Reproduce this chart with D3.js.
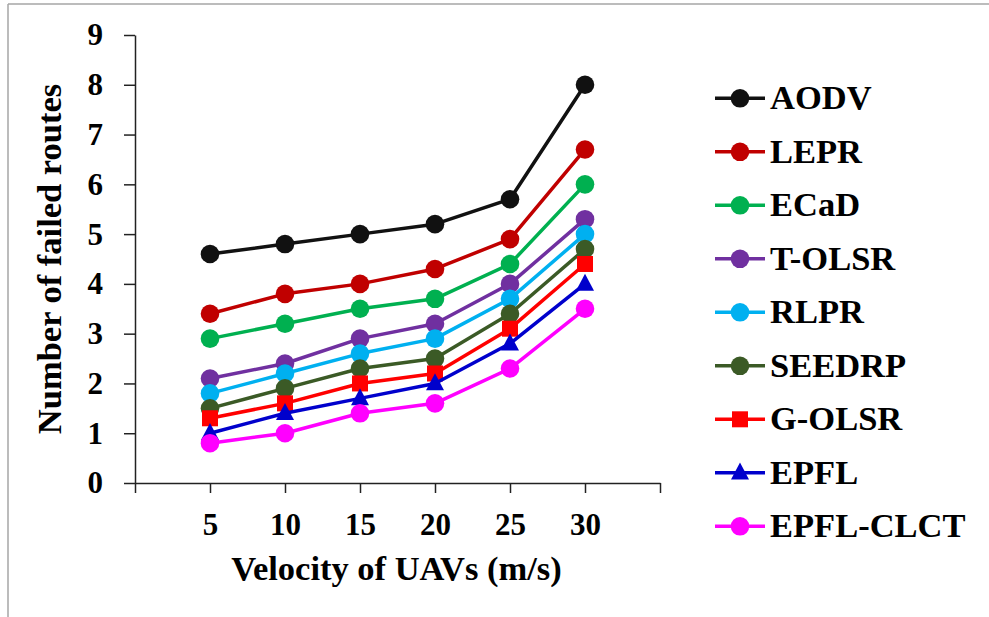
<!DOCTYPE html>
<html>
<head>
<meta charset="utf-8">
<script src="https://cdn.jsdelivr.net/npm/d3@7/dist/d3.min.js"></script>
<style>
  html, body { margin: 0; padding: 0; background: #fff; }
  svg { display: block; }
</style>
</head>
<body>
<svg id="chart" width="989" height="617"></svg>
<script>
// ---- Data ----
const velocities = [5, 10, 15, 20, 25, 30];
const xTickValues = [0, 5, 10, 15, 20, 25, 30, 35];
const xTickLabels = ["", "5", "10", "15", "20", "25", "30", ""];
const yTickValues = [0, 1, 2, 3, 4, 5, 6, 7, 8, 9];
const seriesNames = ["AODV", "LEPR", "ECaD", "T-OLSR", "RLPR", "SEEDRP", "G-OLSR", "EPFL", "EPFL-CLCT"];
const seriesColors = ["#111111", "#C00000", "#00B050", "#7030A0", "#00B0F0", "#3B5A26", "#FF0000", "#0000CC", "#FF00FF"];
const seriesMarkers = ["circle", "circle", "circle", "circle", "circle", "circle", "square", "triangle", "circle"];
const aodv     = [4.6, 4.8, 5.0, 5.2, 5.7, 8.0];
const lepr     = [3.4, 3.8, 4.0, 4.3, 4.9, 6.7];
const ecad     = [2.9, 3.2, 3.5, 3.7, 4.4, 6.0];
const tolsr    = [2.1, 2.4, 2.9, 3.2, 4.0, 5.3];
const rlpr     = [1.8, 2.2, 2.6, 2.9, 3.7, 5.0];
const seedrp   = [1.5, 1.9, 2.3, 2.5, 3.4, 4.7];
const golsr    = [1.3, 1.6, 2.0, 2.2, 3.1, 4.4];
const epfl     = [1.0, 1.4, 1.7, 2.0, 2.8, 4.0];
const epflclct = [0.8, 1.0, 1.4, 1.6, 2.3, 3.5];
const seriesValues = [aodv, lepr, ecad, tolsr, rlpr, seedrp, golsr, epfl, epflclct];

// ---- Layout ----
const svg = d3.select("#chart");
const plot = { left: 135, right: 660, top: 35, bottom: 483 };
const fontStyle = size => `font-family:'Liberation Serif';font-weight:bold;font-size:${size}px;fill:#000`;

// outer frame
svg.append("line").attr("x1", 8).attr("y1", 4).attr("x2", 989).attr("y2", 4)
  .attr("stroke", "#a6a6a6").attr("stroke-width", 1.5);
svg.append("line").attr("x1", 8).attr("y1", 4).attr("x2", 8).attr("y2", 617)
  .attr("stroke", "#a6a6a6").attr("stroke-width", 1.5);

const x = d3.scaleLinear().domain([0, 35]).range([plot.left, plot.right]);
const y = d3.scaleLinear().domain([0, 9]).range([plot.bottom, plot.top]);

// axes
const xAxis = d3.axisBottom(x).tickValues(xTickValues)
  .tickFormat((d, i) => xTickLabels[i]).tickSizeInner(10).tickSizeOuter(0).tickPadding(20);
const yAxis = d3.axisLeft(y).tickValues(yTickValues)
  .tickFormat(d3.format("d")).tickSizeInner(11).tickSizeOuter(0).tickPadding(21);

const gx = svg.append("g").attr("transform", `translate(0,${plot.bottom})`).call(xAxis);
const gy = svg.append("g").attr("transform", `translate(${plot.left},0)`).call(yAxis);
[gx, gy].forEach(g => {
  g.attr("font-family", null).attr("font-size", null);
  g.select(".domain").attr("stroke", "#222").attr("stroke-width", 1.5);
  g.selectAll(".tick line").attr("stroke", "#222").attr("stroke-width", 1.5);
  g.selectAll(".tick text").attr("style", fontStyle(31));
});
gx.selectAll(".tick text").attr("dy", "0.71em");

// axis titles
svg.append("text").attr("x", (plot.left + plot.right) / 2 - 1).attr("y", 580)
  .attr("text-anchor", "middle").attr("style", fontStyle(34.5)).text("Velocity of UAVs (m/s)");
svg.append("text").attr("transform", `translate(61,${(plot.top + plot.bottom) / 2}) rotate(-90)`)
  .attr("text-anchor", "middle").attr("style", fontStyle(34.5)).text("Number of failed routes");

// marker helper
function drawMarker(g, type, cx, cy, color) {
  if (type === "circle") {
    g.append("circle").attr("cx", cx).attr("cy", cy).attr("r", 9.3).attr("fill", color);
  } else if (type === "square") {
    g.append("rect").attr("x", cx - 8).attr("y", cy - 8).attr("width", 16).attr("height", 16).attr("fill", color);
  } else if (type === "triangle") {
    const h = 17, w = 18;
    g.append("path").attr("d", `M${cx},${cy - h * 0.6}L${cx + w / 2},${cy + h * 0.4}L${cx - w / 2},${cy + h * 0.4}Z`)
      .attr("fill", color);
  }
}

// series
const line = d3.line().x((d, i) => x(velocities[i])).y(d => y(d));
seriesValues.forEach((vals, si) => {
  const g = svg.append("g");
  g.append("path").attr("d", line(vals)).attr("fill", "none")
    .attr("stroke", seriesColors[si]).attr("stroke-width", 3.5).attr("stroke-linejoin", "round");
  vals.forEach((v, i) => drawMarker(g, seriesMarkers[si], x(velocities[i]), y(v), seriesColors[si]));
});

// legend
const legend = svg.append("g");
const legendTop = 98.3, legendStep = 53.5;
seriesNames.forEach((name, si) => {
  const cy = legendTop + si * legendStep;
  const g = legend.append("g");
  g.append("line").attr("x1", 715).attr("x2", 765).attr("y1", cy).attr("y2", cy)
    .attr("stroke", seriesColors[si]).attr("stroke-width", 3.5);
  drawMarker(g, seriesMarkers[si], 740, cy, seriesColors[si]);
  g.append("text").attr("x", 770).attr("y", cy + 11).attr("style", fontStyle(34.5)).text(name);
});
</script>
</body>
</html>
